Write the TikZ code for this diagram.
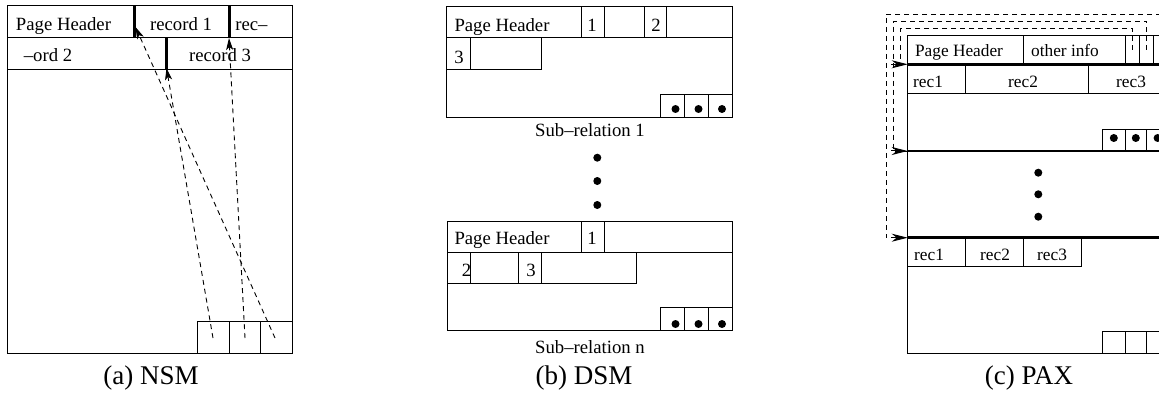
\documentclass[tikz,border=0pt]{standalone}
\usepackage{fontspec}
\setmainfont{Liberation Serif}
\usetikzlibrary{arrows.meta}
\begin{document}
\begin{tikzpicture}[x=1pt,y=-1pt,line width=1pt,
  lbl/.style={anchor=base,inner sep=0pt,font=\fontsize{18.7}{20}\selectfont},
  plbl/.style={anchor=base,inner sep=0pt,font=\fontsize{17.3}{19}\selectfont},
  capt/.style={anchor=base,inner sep=0pt,font=\fontsize{27}{30}\selectfont},
  bar/.style={line width=3pt},
  pbar/.style={line width=2.6pt},
  ptr/.style={dash pattern=on 5pt off 4pt,line width=0.9pt},
  nsmtip/.style={-{Stealth[length=12pt,width=7pt,inset=3pt]}},
  paxtip/.style={-{Stealth[length=16pt,width=8pt,inset=5pt]}},
  dot/.style={circle,fill=black,draw=none,inner sep=0pt,minimum size=8pt}
]
\useasboundingbox (0,0) rectangle (1159,393);
\clip (0,0) rectangle (1159,393);

% ---------------- (a) NSM ----------------
\draw (7,6) rectangle (292.7,353.3);
\draw (7,37.7) -- (292.7,37.7);
\draw (7,69.3) -- (292.7,69.3);
\draw[bar] (134,6) -- (134,37.7);
\draw[bar] (229,6) -- (229,37.7);
\draw[bar] (166,37.7) -- (166,69.3);
\draw (197,321.7) rectangle (292.7,353.3);
\draw (229,321.7) -- (229,353.3);
\draw (260.7,321.7) -- (260.7,353.3);
\node[lbl] (aph) at (63.5,30.7) {Page Header};
\node[lbl] (ar1) at (181,30.7) {record 1};
\node[lbl] (arc) at (251.5,30.7) {rec–};
\node[lbl] (aod) at (48,61.7) {–ord 2};
\node[lbl] (ar3) at (220,61.7) {record 3};
\coordinate (s1) at (213,338);
\coordinate (s2) at (245,338);
\coordinate (s3) at (275,338);
\coordinate (t1) at (135.5,27);
\coordinate (t2) at (229,38);
\coordinate (t3) at (166.5,68);
\draw[ptr,nsmtip] (s3) -- (t1);
\draw[ptr,nsmtip] (s2) -- (t2);
\draw[ptr,nsmtip] (s1) -- (t3);
\node[capt] (capa) at (151,384) {(a) NSM};

% ---------------- (b) DSM ----------------
% sub-relation 1
\draw (446.7,6.7) rectangle (732,117.7);
\draw (446.7,37.7) -- (732,37.7);
\foreach \x in {581.7,604,644,666.7} \draw (\x,6.7) -- (\x,37.7);
\draw (470,37.7) -- (470,70);
\draw (446.7,70) -- (541.7,70) -- (541.7,37.7);
\draw (660,94.3) rectangle (732,117.7);
\draw (684,94.3) -- (684,117.7);
\draw (708,94.3) -- (708,117.7);
\node[dot] (d1a) at (675.5,109) {};
\node[dot] (d1b) at (698.5,109) {};
\node[dot] (d1c) at (722,109) {};
\node[lbl] (bph1) at (502,31.7) {Page Header};
\node[lbl] (b11) at (592,31.7) {1};
\node[lbl] (b12) at (656,31.7) {2};
\node[lbl] (b13) at (459,63.3) {3};
\node[lbl] (sr1) at (590,137) {Sub–relation 1};
\node[dot] (vd1) at (597.3,157.7) {};
\node[dot] (vd2) at (597.3,181) {};
\node[dot] (vd3) at (597.3,205) {};
% sub-relation n
\draw (447,221) rectangle (732,330.7);
\draw (447,252.3) -- (732,252.3);
\foreach \x in {581.7,604.7} \draw (\x,221) -- (\x,252.3);
\foreach \x in {470,518,541.7} \draw (\x,252.3) -- (\x,283.7);
\draw (447,283.7) -- (636.7,283.7) -- (636.7,252.3);
\draw (660,307.3) rectangle (732,330.7);
\draw (684,307.3) -- (684,330.7);
\draw (708,307.3) -- (708,330.7);
\node[dot] (d2a) at (675.5,324) {};
\node[dot] (d2b) at (698.5,324) {};
\node[dot] (d2c) at (722,324) {};
\node[lbl] (bph2) at (502,244.3) {Page Header};
\node[lbl] (b21) at (592,244.3) {1};
\node[lbl] (b22) at (466.5,276.7) {2};
\node[lbl] (b23) at (531,276.7) {3};
\node[lbl] (srn) at (590,353) {Sub–relation n};
\node[capt] (capb) at (584,384) {(b) DSM};

% ---------------- (c) PAX ----------------
\draw (1175,36) -- (907.7,36) -- (907.7,353.3) -- (1175,353.3);
\foreach \x in {1023.3,1125,1139.3,1153.3,1167.5} \draw (\x,36) -- (\x,64.3);
\draw (907.7,93.3) -- (1175,93.3);
\foreach \x in {965.7,1088.3} \draw (\x,64.3) -- (\x,93.3);
\draw (1102.7,151) -- (1102.7,130) -- (1175,130);
\foreach \x in {1125,1146.7,1168.5} \draw (\x,130) -- (\x,151);
\node[dot] (pd1) at (1113.8,138) {};
\node[dot] (pd2) at (1135.8,138) {};
\node[dot] (pd3) at (1157.6,138) {};
\draw (907.7,266.7) -- (1081.7,266.7) -- (1081.7,237.7);
\foreach \x in {965.7,1023.3} \draw (\x,237.7) -- (\x,266.7);
\draw (1102.7,353.3) -- (1102.7,331.7) -- (1175,331.7);
\foreach \x in {1125,1146.7,1168.5} \draw (\x,331.7) -- (\x,353.3);
\draw[pbar] (907.7,64.3) -- (1175,64.3);
\draw[pbar] (907.7,151) -- (1175,151);
\draw[pbar] (907.7,237.7) -- (1175,237.7);
\node[dot] (pv1) at (1038.3,172.7) {};
\node[dot] (pv2) at (1038.3,194.3) {};
\node[dot] (pv3) at (1038.3,216.7) {};
\node[plbl] (cph) at (959,56.7) {Page Header};
\node[plbl] (coi) at (1065,56.7) {other info};
\node[plbl] (cr1) at (928,87.3) {rec1};
\node[plbl] (cr2) at (1023,87.3) {rec2};
\node[plbl] (cr3) at (1131,87.3) {rec3};
\node[plbl] (cb1) at (929,260) {rec1};
\node[plbl] (cb2) at (995,260) {rec2};
\node[plbl] (cb3) at (1052,260) {rec3};
% pointers
\coordinate (p1s) at (1132.3,50);
\coordinate (p2s) at (1146.7,50);
\coordinate (p3s) at (1161,50);
\coordinate (p1e) at (907.7,64.3);
\coordinate (p2e) at (907.7,151);
\coordinate (p3e) at (907.7,237.7);
\draw[ptr] (p1s) -- (1132.3,28.3) -- (900.7,28.3) -- (900.7,64.3) -- (p1e);
\draw[ptr] (p2s) -- (1146.7,21) -- (893.3,21) -- (893.3,151) -- (p2e);
\draw[ptr] (p3s) -- (1161,14) -- (886,14) -- (886,237.7) -- (p3e);
\draw[paxtip] (891,64.3) -- (p1e);
\draw[paxtip] (891,151) -- (p2e);
\draw[paxtip] (891,237.7) -- (p3e);
\node[capt] (capc) at (1029,384) {(c) PAX};
\end{tikzpicture}
\end{document}
